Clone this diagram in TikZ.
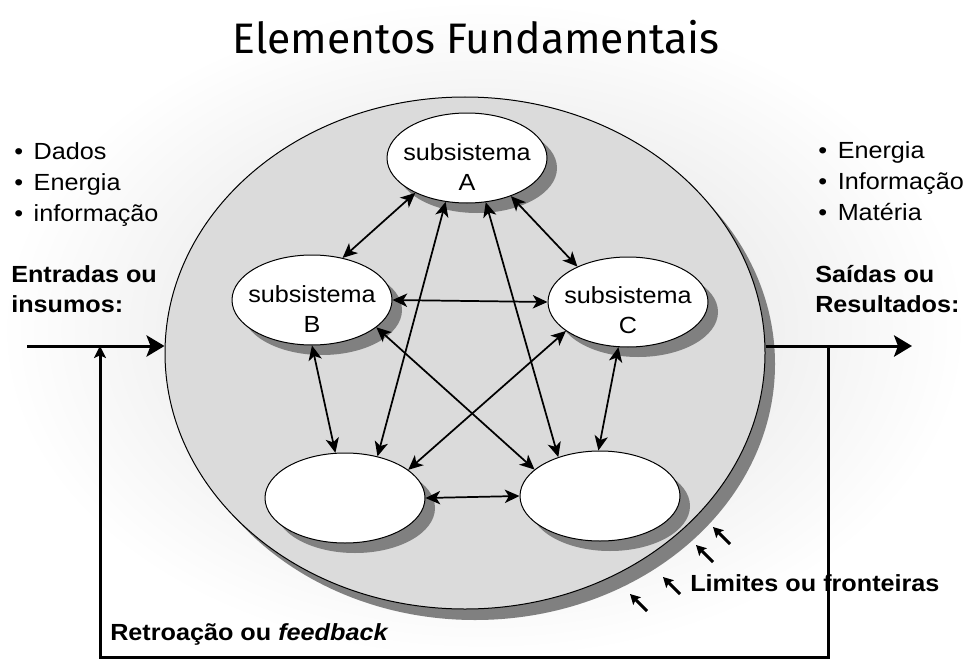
\documentclass[tikz,border=0pt]{standalone}
\usepackage{fontspec}
\setmainfont{Liberation Sans}[FakeStretch=1.08]
\newfontfamily\handfont{Fira Sans}
\usetikzlibrary{shapes.geometric}
\usetikzlibrary{shadows}
\usetikzlibrary{arrows.meta}
\definecolor{sysgray}{gray}{0.86}
\definecolor{shadowgray}{gray}{0.5}
\newcommand{\txtsize}{\fontsize{17.5}{23}\selectfont}
\newcommand{\blt}{\textbullet\hspace{8pt}}
\tikzset{
  headline/.style={font=\handfont\fontsize{32}{38}\selectfont, anchor=base, inner sep=0pt},
  sysbody/.style={ellipse, draw, line width=0.75pt, fill=sysgray, minimum width=450pt, minimum height=384pt, inner sep=0pt,
    drop shadow={shadow xshift=7.5pt, shadow yshift=-8.25pt, fill=shadowgray, opacity=1}},
  subsys/.style={ellipse, draw, line width=0.75pt, fill=white, minimum width=120pt, minimum height=67.5pt, inner sep=0pt,
    drop shadow={shadow xshift=7.5pt, shadow yshift=-7.5pt, fill=shadowgray, opacity=1}},
  subtext/.style={align=center, font=\fontsize{17.5}{22.5}\selectfont, inner sep=0pt},
  listtxt/.style={anchor=base west, inner sep=0pt, font=\txtsize},
  boldtxt/.style={anchor=base west, inner sep=0pt, font=\txtsize\bfseries},
  link/.style={{Stealth[length=11pt,width=10pt,inset=3pt]}-{Stealth[length=11pt,width=10pt,inset=3pt]}, line width=1.3pt},
  iobar/.style={-{Stealth[length=13.5pt,width=16pt,inset=3pt]}, line width=2.25pt},
  fbline/.style={-{Stealth[length=9pt,width=9pt,inset=2pt]}, line width=2.25pt},
  bndarrow/.style={-{Stealth[length=7.5pt,width=8pt,inset=1.5pt]}, line width=2.25pt}
}

\begin{document}
\begin{tikzpicture}[x=0.75pt,y=-0.75pt]
\useasboundingbox (0,0) rectangle (967,660);
% background
\shade[inner color=black!14, outer color=white] (0,0) rectangle (967,660);
\node[headline] (title) at (476,54) {Elementos Fundamentais};
% feedback loop, behind the system
\coordinate (fbout) at (828,346);
\coordinate (fbin) at (100,346);
\draw[fbline] (fbout) -- ++(0,311) -| (fbin);
% the system with its boundary
\node[sysbody] (sys) at (465,353) {};
% subsystems
\node[subsys] (subA) at (467,158) {};
\node[subsys] (subB) at (312,300) {};
\node[subsys] (subC) at (628,302) {};
\node[subsys] (subD) at (345,498) {};
\node[subsys] (subE) at (600,496) {};
\node[subtext] (txtA) at (467,167) {subsistema\\A};
\node[subtext] (txtB) at (312,309) {subsistema\\B};
\node[subtext] (txtC) at (628,310) {subsistema\\C};
% relations between subsystems
\draw[link] (subA.214) -- (subB.54);
\draw[link] (subA.319) -- (subC.145);
\draw[link] (subB.0) -- (subC.180);
\draw[link] (subA.244) -- (subD.52);
\draw[link] (subA.293) -- (subE.137);
\draw[link] (subB.270) -- (subD.102);
\draw[link] (subC.258) -- (subE.92);
\draw[link] (subB.337) -- (subE.158);
\draw[link] (subC.205) -- (subD.24);
\draw[link] (subD.0) -- (subE.180);
% inputs and outputs
\coordinate (src) at (27,346);
\coordinate (dst) at (912,346);
\draw[iobar] (src) -- (src -| sys.west);
\draw[iobar] (sys.east |- dst) -- (dst);
\foreach \t/\y [count=\i] in {Dados/159,Energia/190,informação/221}
  \node[listtxt] (inp\i) at (14,\y) {\blt\t};
\foreach \t/\y [count=\i] in {Energia/158,Informação/189,Matéria/220}
  \node[listtxt] (outp\i) at (818,\y) {\blt\t};
\node[boldtxt] (entr1) at (11,282) {Entradas ou};
\node[boldtxt] (entr2) at (11,312) {insumos:};
\node[boldtxt] (said1) at (815,282) {Saídas ou};
\node[boldtxt] (said2) at (815,312) {Resultados:};
% boundary
\foreach \x/\y in {647/611,680/594,713/562,730/544}
  \draw[bndarrow] (\x,\y) -- ++(-17,-17);
\node[boldtxt] (lim) at (690,591) {Limites ou fronteiras};
\node[boldtxt] (retro) at (110,640) {Retroação ou \textit{feedback}};
\end{tikzpicture}
\end{document}
